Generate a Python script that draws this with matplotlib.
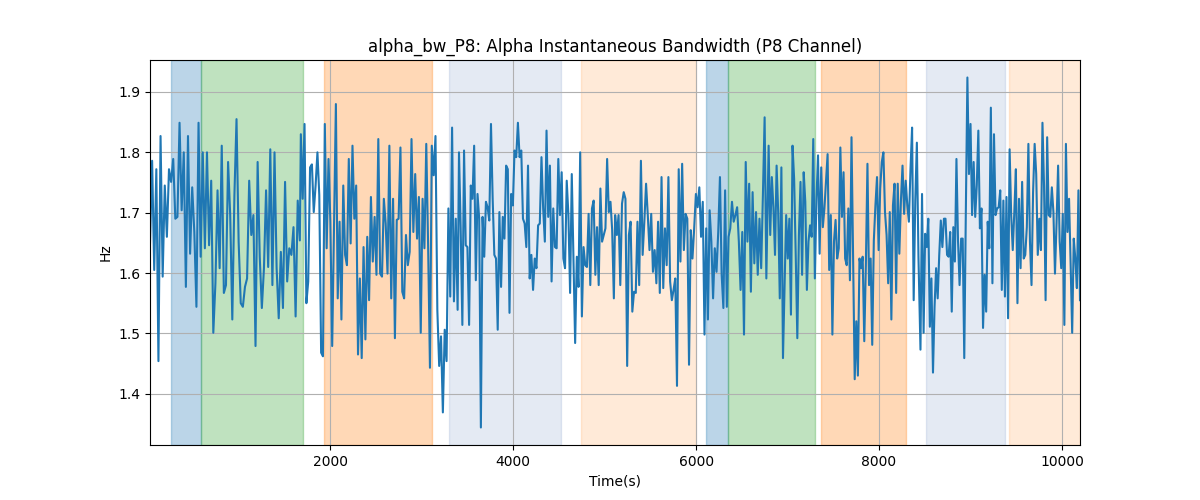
import matplotlib
matplotlib.use('Agg')
import matplotlib.pyplot as plt
import numpy as np

# Signal, in six consecutive stretches of time
seg_start = [30, 1679, 3408, 5115, 6793, 8453]
seg_end = [1668, 3393, 5101, 6768, 8431, 10197]

seg1 = [1.649, 1.786, 1.605, 1.772, 1.454, 1.827, 1.594, 1.745, 1.660, 1.772,
        1.751, 1.789, 1.690, 1.693, 1.849, 1.704, 1.800, 1.577, 1.827, 1.632,
        1.742, 1.668, 1.544, 1.849, 1.627, 1.800, 1.641, 1.800, 1.646, 1.753,
        1.501, 1.583, 1.737, 1.608, 1.811, 1.567, 1.580, 1.784, 1.696, 1.523,
        1.729, 1.855, 1.652, 1.550, 1.544, 1.577, 1.591, 1.753, 1.663, 1.696,
        1.479, 1.784, 1.627, 1.542, 1.608, 1.737, 1.610, 1.805, 1.580, 1.800,
        1.608, 1.525, 1.635, 1.542, 1.751, 1.586, 1.641, 1.630, 1.676, 1.528,
        1.720, 1.654]
seg2 = [1.830, 1.723, 1.847, 1.550, 1.586, 1.775, 1.780, 1.701, 1.745, 1.800,
        1.729, 1.468, 1.462, 1.847, 1.641, 1.789, 1.685, 1.479, 1.679, 1.880,
        1.558, 1.685, 1.523, 1.745, 1.630, 1.613, 1.789, 1.649, 1.811, 1.690,
        1.745, 1.465, 1.591, 1.459, 1.643, 1.490, 1.660, 1.555, 1.726, 1.619,
        1.693, 1.597, 1.822, 1.599, 1.594, 1.723, 1.682, 1.599, 1.811, 1.558,
        1.723, 1.492, 1.688, 1.690, 1.808, 1.569, 1.558, 1.663, 1.613, 1.635,
        1.822, 1.668, 1.764, 1.657, 1.726, 1.501, 1.723, 1.641, 1.814, 1.646,
        1.443, 1.811, 1.762, 1.827, 1.539, 1.446, 1.495, 1.369, 1.506, 1.454,
        1.707, 1.561, 1.841, 1.553, 1.690, 1.539]
seg3 = [1.800, 1.674, 1.514, 1.803, 1.646, 1.643, 1.514, 1.745, 1.723, 1.811,
        1.588, 1.731, 1.690, 1.344, 1.693, 1.627, 1.718, 1.709, 1.687, 1.847,
        1.723, 1.630, 1.624, 1.506, 1.701, 1.577, 1.693, 1.657, 1.778, 1.772,
        1.534, 1.731, 1.712, 1.803, 1.792, 1.849, 1.792, 1.803, 1.690, 1.682,
        1.643, 1.778, 1.591, 1.630, 1.572, 1.624, 1.608, 1.679, 1.682, 1.792,
        1.707, 1.652, 1.836, 1.693, 1.778, 1.586, 1.707, 1.643, 1.641, 1.789,
        1.696, 1.767, 1.624, 1.608, 1.753, 1.696, 1.567, 1.764, 1.621, 1.484,
        1.627, 1.577, 1.800, 1.528, 1.643, 1.613, 1.610, 1.698, 1.580, 1.707,
        1.720, 1.597, 1.676, 1.580, 1.740, 1.652, 1.663, 1.674, 1.789, 1.701,
        1.718, 1.671, 1.558]
seg4 = [1.696, 1.663, 1.696, 1.580, 1.715, 1.734, 1.723, 1.446, 1.663, 1.685,
        1.536, 1.569, 1.567, 1.685, 1.580, 1.786, 1.630, 1.685, 1.748, 1.696,
        1.638, 1.698, 1.602, 1.638, 1.583, 1.685, 1.567, 1.759, 1.575, 1.674,
        1.613, 1.759, 1.586, 1.555, 1.572, 1.591, 1.413, 1.772, 1.619, 1.781,
        1.638, 1.698, 1.690, 1.448, 1.671, 1.624, 1.674, 1.731, 1.709, 1.742,
        1.660, 1.718, 1.498, 1.674, 1.523, 1.704, 1.652, 1.558, 1.641, 1.602,
        1.668, 1.759, 1.597, 1.542, 1.737, 1.544, 1.660, 1.674, 1.718, 1.685,
        1.696, 1.709, 1.652, 1.572, 1.668, 1.498, 1.784, 1.652, 1.748, 1.569,
        1.734, 1.616, 1.701, 1.597, 1.690, 1.608, 1.729, 1.858, 1.591]
seg5 = [1.811, 1.663, 1.759, 1.709, 1.630, 1.778, 1.701, 1.558, 1.775, 1.459,
        1.575, 1.696, 1.624, 1.690, 1.531, 1.811, 1.756, 1.630, 1.492, 1.663,
        1.751, 1.597, 1.767, 1.718, 1.572, 1.652, 1.679, 1.660, 1.822, 1.591,
        1.723, 1.795, 1.632, 1.775, 1.676, 1.707, 1.751, 1.797, 1.605, 1.696,
        1.498, 1.652, 1.688, 1.624, 1.641, 1.808, 1.693, 1.767, 1.624, 1.613,
        1.707, 1.588, 1.825, 1.630, 1.424, 1.520, 1.430, 1.624, 1.608, 1.627,
        1.487, 1.613, 1.781, 1.580, 1.624, 1.481, 1.654, 1.712, 1.759, 1.638,
        1.740, 1.784, 1.800, 1.701, 1.663, 1.583, 1.701, 1.523, 1.712, 1.748,
        1.567, 1.748, 1.632, 1.720, 1.778, 1.698, 1.753, 1.712, 1.685, 1.772,
        1.841, 1.555, 1.720, 1.816, 1.627]
seg6 = [1.473, 1.731, 1.501, 1.665, 1.643, 1.690, 1.511, 1.591, 1.435, 1.544,
        1.608, 1.558, 1.630, 1.687, 1.643, 1.690, 1.690, 1.630, 1.627, 1.668,
        1.536, 1.676, 1.619, 1.789, 1.654, 1.580, 1.657, 1.657, 1.459, 1.701,
        1.924, 1.764, 1.847, 1.696, 1.784, 1.693, 1.745, 1.836, 1.674, 1.707,
        1.509, 1.597, 1.536, 1.685, 1.641, 1.874, 1.583, 1.830, 1.696, 1.707,
        1.709, 1.737, 1.572, 1.720, 1.561, 1.726, 1.525, 1.805, 1.696, 1.638,
        1.701, 1.772, 1.550, 1.723, 1.608, 1.751, 1.624, 1.630, 1.676, 1.814,
        1.652, 1.580, 1.734, 1.814, 1.764, 1.630, 1.690, 1.638, 1.849, 1.745,
        1.555, 1.825, 1.696, 1.693, 1.742, 1.701, 1.599, 1.682, 1.778, 1.652,
        1.608, 1.698, 1.514, 1.814, 1.668, 1.723, 1.616, 1.501, 1.657, 1.624,
        1.575, 1.737, 1.555]

# Shaded periods (start, end, colour, alpha)
span_start = [263, 585, 1934, 3302, 4747, 6103, 6347, 7362, 8512, 9420]
span_end = [585, 1708, 3113, 4525, 6001, 6347, 7304, 8300, 9376, 10197]
span_color = ['tab:blue', 'tab:green', 'tab:orange', '#4c72b0', 'tab:orange',
              'tab:blue', 'tab:green', 'tab:orange', '#4c72b0', 'tab:orange']
span_alpha = [0.3, 0.3, 0.3, 0.15, 0.16, 0.3, 0.3, 0.3, 0.15, 0.16]


def main():
    segs = [seg1, seg2, seg3, seg4, seg5, seg6]
    t = np.concatenate([np.linspace(a, b, len(s))
                        for a, b, s in zip(seg_start, seg_end, segs)])
    y = np.concatenate([np.array(s) for s in segs])

    fig, ax = plt.subplots(figsize=(12, 5), dpi=100)
    for a, b, c, al in zip(span_start, span_end, span_color, span_alpha):
        ax.axvspan(a, b, color=c, alpha=al)
    ax.plot(t, y, color='tab:blue', linewidth=1.5)
    ax.set_xlim(t.min(), t.max())
    ax.grid(True)
    ax.set_title('alpha_bw_P8: Alpha Instantaneous Bandwidth (P8 Channel)')
    ax.set_xlabel('Time(s)')
    ax.set_ylabel('Hz')
    fig.savefig('out.png')


if __name__ == '__main__':
    main()
